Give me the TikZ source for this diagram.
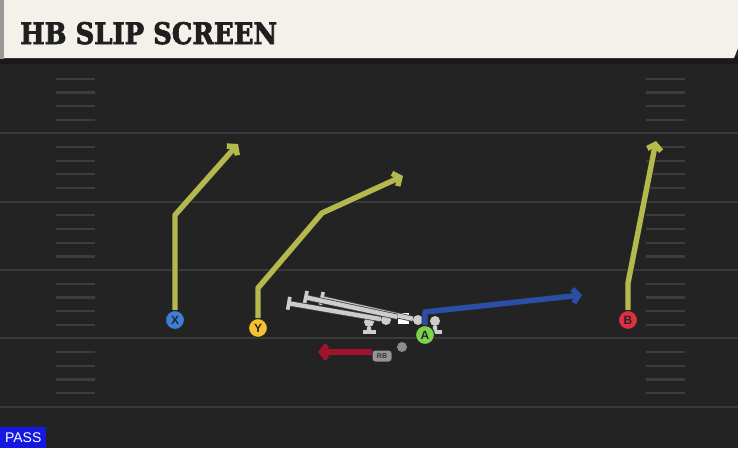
\documentclass[tikz,border=0pt]{standalone}
\usepackage{fontspec}
\usepackage{graphicx}
\setmainfont{Liberation Sans}
\newfontfamily\titlefont{DejaVu Serif}[BoldFeatures={FakeBold=2.5}]
\usetikzlibrary{arrows.meta,calc}
\definecolor{fieldbg}{HTML}{232323}
\definecolor{majorc}{HTML}{3A3A3A}
\definecolor{hashc}{HTML}{3D3D3D}
\definecolor{cream}{HTML}{F4F1EA}
\definecolor{routey}{HTML}{B5B84C}
\definecolor{routeb}{HTML}{2B4EA6}
\definecolor{router}{HTML}{A0122E}
\definecolor{xcol}{HTML}{3E7FD8}
\definecolor{ycol}{HTML}{F5C12E}
\definecolor{acol}{HTML}{7CD44E}
\definecolor{bcol}{HTML}{E0303F}
\definecolor{passblue}{HTML}{1418E0}
\definecolor{olgray}{HTML}{CDCDCD}
\tikzset{
  majorline/.style={draw=majorc, line width=2.4pt},
  hashline/.style={draw=hashc, line width=2.2pt},
  player/.style={circle, draw=black!85, line width=1.1pt, minimum size=19pt, inner sep=0pt,
    font=\fontsize{12}{12}\selectfont\bfseries, text=black!85},
  route/.style={line width=5.4pt, line join=round,
    -{Straight Barb[length=5.5pt,width=14pt]},
    preaction={draw=black!85, line width=7pt, -{Straight Barb[length=5.5pt,width=14pt]}}},
  lineman/.style={circle, fill=olgray, minimum size=10pt, inner sep=0pt},
  centerman/.style={rectangle, fill=white, minimum size=11pt, inner sep=0pt},
  blockline/.style={draw=olgray, line width=4.4pt, -{Bar[width=13pt,line width=3.6pt]},
    preaction={draw=black!75, line width=6pt}},
}
\begin{document}
\begin{tikzpicture}[x=1pt,y=-1pt]
\useasboundingbox (0,0) rectangle (738,448);
\fill[fieldbg] (0,0) rectangle (738,448);
% field lines
\foreach \y in {133,202,270,338,407} \draw[majorline] (0,\y) -- (738,\y);
\foreach \s in {65,133.2,201.6,270,338.4} {
  \foreach \k in {1,...,4} {
    \draw[hashline] (56,\s+13.7*\k) -- (95,\s+13.7*\k);
    \draw[hashline] (646,\s+13.7*\k) -- (685,\s+13.7*\k);
  }
}
% title bar
\fill[black!90] (0,56) rectangle (738,64);
\fill[black!40] (0,0) rectangle (4,59);
\fill[cream] (4,0) -- (738,0) -- (738,48) -- (734,58) -- (4,58) -- cycle;
\node[anchor=base west, inner sep=0pt, text=black!88] (title) at (20,44)
  {\resizebox{257pt}{22pt}{\titlefont\bfseries HB SLIP SCREEN}};
% PASS label
\node[anchor=south west, fill=passblue, text=white, inner sep=0pt, minimum width=46pt,
  minimum height=21pt, font=\fontsize{14}{14}\selectfont] (pass) at (0,448) {PASS};
% players
\node[player, fill=xcol] (X) at (175,320) {X};
\node[player, fill=ycol] (Y) at (258,328) {Y};
\node[player, fill=bcol] (B) at (628,320) {B};
% offensive line
\node[lineman] (lt) at (369,322) {};
\node[lineman] (lg) at (386,320) {};
\node[centerman] (c) at (403,318) {};
\node[lineman] (rg) at (418,320) {};
\node[lineman] (rt) at (435,321) {};
\coordinate (ltb) at (369,334);
\coordinate (rtb) at (435,334);
\coordinate (lgb) at (287,303);
\coordinate (cb) at (304,297);
\coordinate (rgb) at (320,298);
\draw[blockline] (rg) -- (rgb);
\draw[blockline] (c) -- (cb);
\draw[blockline] (lg) -- (lgb);
\draw[blockline] (lt) -- (ltb);
\draw[blockline] (rt) -- (rtb);
\node[player, fill=acol] (A) at (425,335) {A};
% QB dot
\node[circle, fill=black!45, minimum size=10pt, inner sep=0pt] (qb) at (402,347) {};
% RB tag
\node[fill=black!42, rounded corners=3pt, minimum width=19pt, minimum height=11pt,
  inner sep=0pt, font=\fontsize{7}{7}\selectfont\bfseries, text=black!80] (RB) at (382,356) {RB};
% route end points
\coordinate (xbend) at (175,215);
\coordinate (xend) at (238,144);
\coordinate (ybend1) at (258,288);
\coordinate (ybend2) at (322,213);
\coordinate (yend) at (403,176);
\coordinate (bbend) at (628,283);
\coordinate (bend) at (656,141);
\coordinate (abend) at (425,312);
\coordinate (aend) at (582,295);
\coordinate (rbend) at (318,352);
% routes
\draw[route, draw=routey] (X.north) -- (xbend) -- (xend);
\draw[route, draw=routey] (Y.north) -- (ybend1) -- (ybend2) -- (yend);
\draw[route, draw=routey] (B.north) -- (bbend) -- (bend);
\draw[route, draw=routeb] (A.north) -- (abend) -- (aend);
\draw[route, draw=router] ([yshift=4pt]RB.west) -- (rbend);
\end{tikzpicture}
\end{document}
